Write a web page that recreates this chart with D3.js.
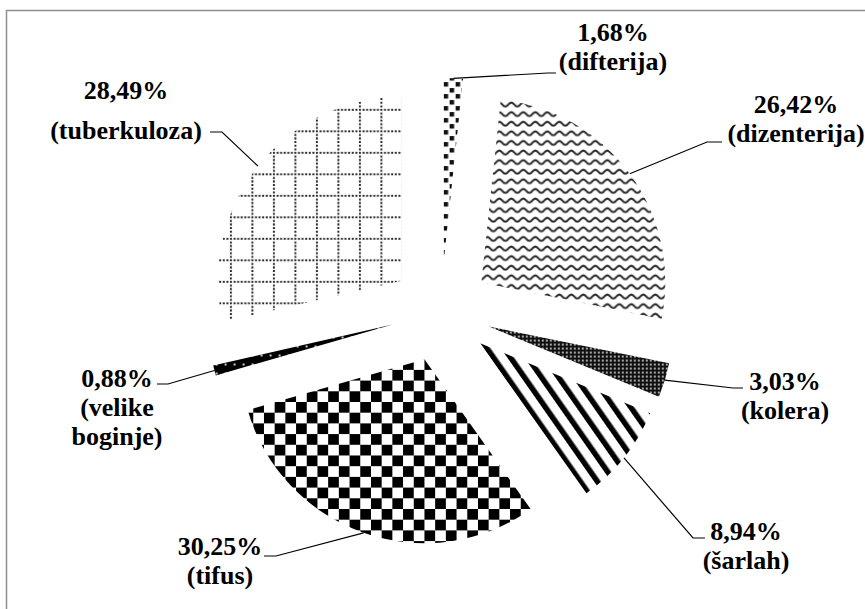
<!DOCTYPE html>
<html>
<head>
<meta charset="utf-8">
<script src="https://cdn.jsdelivr.net/npm/d3@7"></script>
<style>
  html, body { margin: 0; padding: 0; background: #fff; }
  svg { display: block; }
</style>
</head>
<body>
<div id="chart"></div>
<script>
const diseases = ["difterija", "dizenterija", "kolera", "šarlah", "tifus", "velike boginje", "tuberkuloza"];
const shares = [1.68, 26.42, 3.03, 8.94, 30.25, 0.88, 28.49];

// pattern used by each slice (same order as diseases)
const fills = ["dots", "wave", "mesh", "stripes", "checker", "speckle", "dotgrid"];

// label placement: text centre, first baseline, line gap, leader elbow + end
const labelSpots = [
  { x: 613, y: 41,  gap: 29, ex: 548, ey: 73,  hx: 556 },
  { x: 796, y: 113, gap: 29, ex: 707, ey: 142, hx: 722 },
  { x: 785, y: 390, gap: 29, ex: 733, ey: 388, hx: 743 },
  { x: 746, y: 540, gap: 29, ex: 693, ey: 538, hx: 705 },
  { x: 220, y: 555, gap: 29, ex: 276, ey: 556, hx: 264 },
  { x: 117, y: 387, gap: 29, ex: 168, ey: 384, hx: 157 },
  { x: 126, y: 99,  gap: 40, ex: 222, ey: 132, hx: 210 },
];

const width = 865, height = 609;
const cx = 441, cy = 312, radius = 184, explode = 50;
const fmt = (v) => d3.format(".2f")(v).replace(".", ",") + "%";

const svg = d3.select("#chart")
  .append("svg")
  .attr("width", width)
  .attr("height", height)
  .attr("viewBox", [0, 0, width, height]);

svg.append("rect")
  .attr("width", width).attr("height", height)
  .attr("fill", "#fff");

// chart frame (right/bottom edges fall outside the crop)
svg.append("rect")
  .attr("x", 6.5).attr("y", 10.5)
  .attr("width", width + 20).attr("height", height + 20)
  .attr("fill", "none")
  .attr("stroke", "#8e8e8e")
  .attr("stroke-width", 1.5);

// Patterns
const defs = svg.append("defs");

const dots = defs.append("pattern").attr("id", "dots")
  .attr("patternUnits", "userSpaceOnUse").attr("width", 12).attr("height", 12);
dots.append("rect").attr("width", 12).attr("height", 12).attr("fill", "#fff");
dots.append("rect").attr("x", 0).attr("y", 0).attr("width", 4.5).attr("height", 4.5).attr("fill", "#111");
dots.append("rect").attr("x", 6).attr("y", 6).attr("width", 4.5).attr("height", 4.5).attr("fill", "#111");

const wave = defs.append("pattern").attr("id", "wave")
  .attr("patternUnits", "userSpaceOnUse").attr("width", 12).attr("height", 9.6);
wave.append("rect").attr("width", 12).attr("height", 9.6).attr("fill", "#fff");
wave.append("path")
  .attr("d", "M0,6.5 C3,6.5 3,2.5 6,2.5 C9,2.5 9,6.5 12,6.5")
  .attr("fill", "none").attr("stroke", "#2a2a2a").attr("stroke-width", 2);

const mesh = defs.append("pattern").attr("id", "mesh")
  .attr("patternUnits", "userSpaceOnUse").attr("width", 4).attr("height", 4);
mesh.append("rect").attr("width", 4).attr("height", 4).attr("fill", "#111");
mesh.append("circle").attr("cx", 2).attr("cy", 2).attr("r", 1).attr("fill", "#d8d8d8");

const stripes = defs.append("pattern").attr("id", "stripes")
  .attr("patternUnits", "userSpaceOnUse").attr("width", 14).attr("height", 14)
  .attr("patternTransform", "rotate(-35)");
stripes.append("rect").attr("width", 14).attr("height", 14).attr("fill", "#fff");
stripes.append("rect").attr("x", 0).attr("width", 5.5).attr("height", 14).attr("fill", "#000");

const checker = defs.append("pattern").attr("id", "checker")
  .attr("patternUnits", "userSpaceOnUse").attr("width", 21.4).attr("height", 21.4);
checker.append("rect").attr("width", 21.4).attr("height", 21.4).attr("fill", "#fff");
checker.append("rect").attr("width", 10.7).attr("height", 10.7).attr("fill", "#000");
checker.append("rect").attr("x", 10.7).attr("y", 10.7).attr("width", 10.7).attr("height", 10.7).attr("fill", "#000");

const speckle = defs.append("pattern").attr("id", "speckle")
  .attr("patternUnits", "userSpaceOnUse").attr("width", 9).attr("height", 9);
speckle.append("rect").attr("width", 9).attr("height", 9).attr("fill", "#000");
speckle.append("rect").attr("x", 3).attr("y", 3).attr("width", 2).attr("height", 2).attr("fill", "#ccc");

const dotgrid = defs.append("pattern").attr("id", "dotgrid")
  .attr("patternUnits", "userSpaceOnUse").attr("width", 21.5).attr("height", 21.5);
dotgrid.append("rect").attr("width", 21.5).attr("height", 21.5).attr("fill", "#fff");
dotgrid.append("path")
  .attr("d", "M0,1 H21.5 M1,0 V21.5")
  .attr("stroke", "#2a2a2a").attr("stroke-width", 2)
  .attr("stroke-dasharray", "2 1.6");

// Pie
const pie = d3.pie().sort(null).value((d) => d)
  .startAngle(0).endAngle(2 * Math.PI);
const arcs = pie(shares);

const arc = d3.arc().innerRadius(0).outerRadius(radius);
const rim = d3.arc().innerRadius(radius).outerRadius(radius);

const offset = (a) => {
  const mid = (a.startAngle + a.endAngle) / 2;
  return [Math.sin(mid) * explode, -Math.cos(mid) * explode];
};

const g = svg.append("g").attr("transform", `translate(${cx},${cy})`);

g.selectAll("path.slice")
  .data(arcs)
  .join("path")
  .attr("class", "slice")
  .attr("transform", (d) => `translate(${offset(d)})`)
  .attr("d", arc)
  .attr("fill", (d, i) => `url(#${fills[i]})`);

// Leader lines from the rim midpoint of each slice
svg.append("g")
  .selectAll("polyline")
  .data(arcs)
  .join("polyline")
  .attr("points", (d, i) => {
    const [ox, oy] = offset(d);
    const [rx, ry] = rim.centroid(d);
    const s = labelSpots[i];
    return [[cx + ox + rx, cy + oy + ry], [s.ex, s.ey], [s.hx, s.ey]].join(" ");
  })
  .attr("fill", "none")
  .attr("stroke", "#000")
  .attr("stroke-width", 1.2);

// Labels
const labels = svg.append("g");

diseases.forEach((name, i) => {
  const s = labelSpots[i];
  const lines = [fmt(shares[i]), ...("(" + name + ")").split(" ")];
  lines.forEach((ln, j) => {
    labels.append("text")
      .attr("x", s.x)
      .attr("y", s.y + j * s.gap)
      .attr("text-anchor", "middle")
      .attr("fill", "#000")
      .style("font-family", '"Liberation Serif"')
      .style("font-weight", "bold")
      .style("font-size", "26px")
      .text(ln);
  });
});
</script>
</body>
</html>
